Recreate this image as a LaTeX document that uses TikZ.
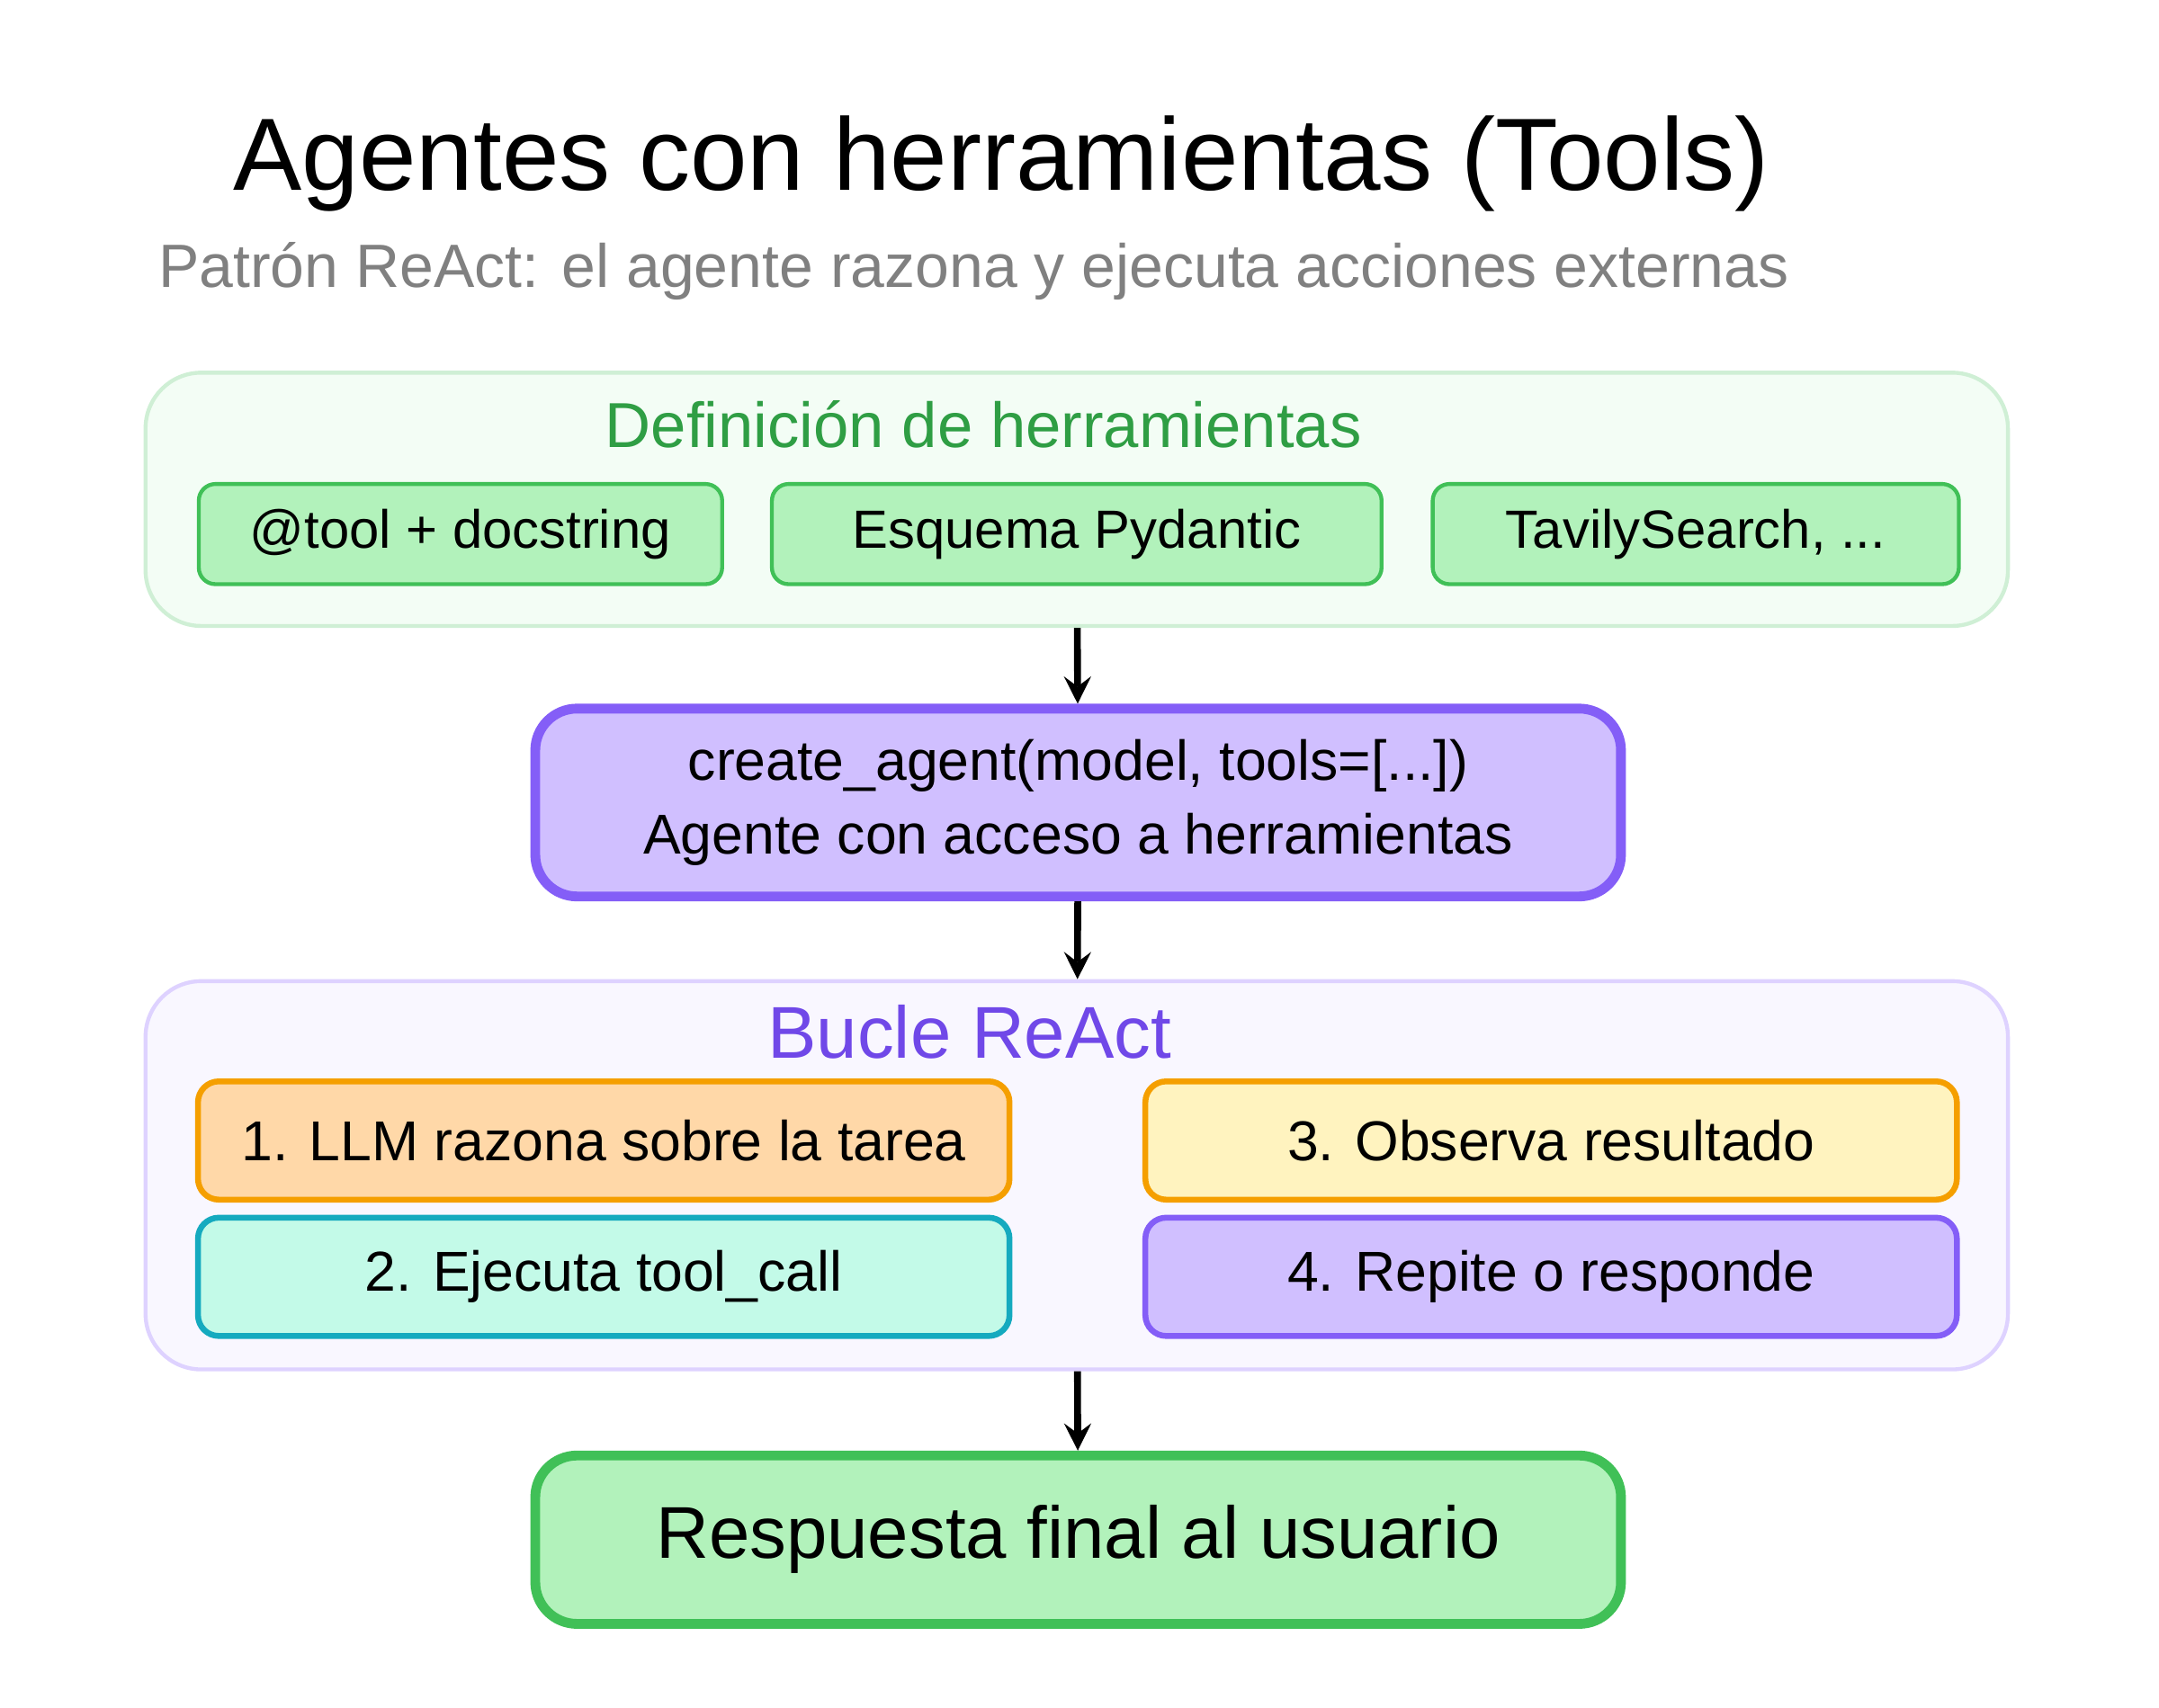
\documentclass[tikz,border=0pt]{standalone}
\usepackage{fontspec}
\setmainfont{Liberation Sans}
\definecolor{grnfill}{HTML}{B2F2BB}
\definecolor{grndraw}{HTML}{40C057}
\definecolor{grndark}{HTML}{2F9E44}
\definecolor{purfill}{HTML}{D0BFFF}
\definecolor{purdraw}{HTML}{845EF7}
\definecolor{purdark}{HTML}{7048E8}
\definecolor{orafill}{HTML}{FFD8A8}
\definecolor{oradraw}{HTML}{F59F00}
\definecolor{yelfill}{HTML}{FFF3BF}
\definecolor{cyafill}{HTML}{C3FAE8}
\definecolor{cyadraw}{HTML}{15AABF}
\tikzstyle{group} = [rectangle, rounded corners=0.4cm, minimum width=13.38cm, thick]
\tikzstyle{tool} = [rectangle, rounded corners=0.12cm, minimum height=0.72cm, text centered, draw=grndraw, fill=grnfill, thick, font=\fontsize{11}{13}\selectfont]
\tikzstyle{loopstep} = [rectangle, rounded corners=0.15cm, minimum width=5.83cm, minimum height=0.85cm, text centered, line width=1.2pt, font=\fontsize{11.5}{14}\selectfont]
\tikzstyle{main} = [rectangle, rounded corners=0.3cm, minimum width=7.8cm, text centered, line width=2pt]
\tikzstyle{flow} = [line width=1.4pt,->,>=stealth]

\begin{document}
\begin{tikzpicture}[x=0.01cm, y=-0.01cm]
      \useasboundingbox (0,0) rectangle (1552,1228);
      \node (title) at (720,118) {\fontsize{21}{25}\selectfont Agentes con herramientas (Tools)};
      \node (sub) [text=gray] at (700,195) {\fontsize{12.5}{15}\selectfont Patrón ReAct: el agente razona y ejecuta acciones externas};

      \node (defs) [group, minimum height=1.82cm, fill=grnfill!15, draw=grndraw!25] at (774,359) {};
      \node (defst) [text=grndark, font=\fontsize{13}{15}\selectfont] at (707,305) {Definición de herramientas};
      \node (t1) [tool, minimum width=3.76cm] at (331,384) {@tool + docstring};
      \node (t2) [tool, minimum width=4.38cm] at (774,384) {Esquema Pydantic};
      \node (t3) [tool, minimum width=3.78cm] at (1219,384) {TavilySearch, ...};

      \node (agent) [main, minimum height=1.35cm, fill=purfill, draw=purdraw, font=\fontsize{11.5}{15}\selectfont, align=center] at (775,577)
            {create\_agent(model, tools=[...])\\Agente con acceso a herramientas};

      \node (loop) [group, minimum height=2.79cm, fill=purfill!12, draw=purfill!70] at (774,845) {};
      \node (loopt) [text=purdark, font=\fontsize{15}{18}\selectfont] at (697,742) {Bucle ReAct};
      \node (s1) [loopstep, fill=orafill, draw=oradraw] at (434,820) {1. LLM razona sobre la tarea};
      \node (s3) [loopstep, fill=yelfill, draw=oradraw] at (1115,820) {3. Observa resultado};
      \node (s2) [loopstep, fill=cyafill, draw=cyadraw] at (434,918) {2. Ejecuta tool\_call};
      \node (s4) [loopstep, fill=purfill, draw=purdraw] at (1115,918) {4. Repite o responde};

      \node (final) [main, minimum height=1.21cm, fill=grnfill, draw=grndraw, font=\fontsize{15}{18}\selectfont] at (775,1107) {Respuesta final al usuario};

      \draw [flow] (defs) -- (agent);
      \draw [flow] (agent) -- (loop);
      \draw [flow] (loop) -- (final);
\end{tikzpicture}
\end{document}
